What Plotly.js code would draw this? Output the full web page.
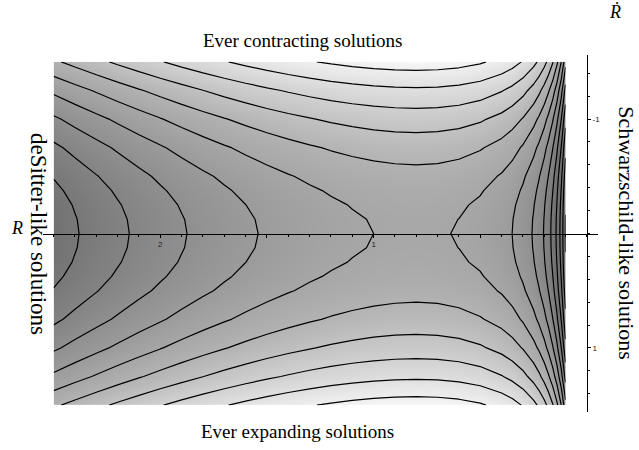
<!DOCTYPE html>
<html>
<head>
<meta charset="utf-8">
<script src="https://cdn.plot.ly/plotly-3.0.1.min.js"></script>
<style>
  html, body { margin: 0; padding: 0; background: #fff; }
  #chart { width: 639px; height: 450px; }
</style>
</head>
<body>
<div id="chart"></div>
<script>
// R values of the grid columns (axis runs right to left, 0 at the vertical axis)
const rValues = [0.10, 0.12, 0.14, 0.16, 0.18, 0.20, 0.225, 0.25, 0.30, 0.35, 0.40, 0.50,
                 0.60, 0.70, 0.80, 0.90, 1.00, 1.10, 1.20, 1.30, 1.40, 1.50, 1.60, 1.70,
                 1.80, 1.90, 2.00, 2.10, 2.20, 2.30, 2.40, 2.50];

// Rdot values of the grid rows (top of the picture is -1.5)
const rdotValues = [-1.5, -1.25, -1.0, -0.75, -0.5, -0.375, -0.25, -0.125, 0,
                    0.125, 0.25, 0.375, 0.5, 0.75, 1.0, 1.25, 1.5];

// level read along each row, by |Rdot|
const row0000 = [-4.204, -3.506, -3.008, -2.636, -2.347, -2.116, -1.887, -1.706, -1.437, -1.250, -1.116, -0.943,
                 -0.848, -0.801, -0.787, -0.799, -0.830, -0.878, -0.940, -1.016, -1.104, -1.203, -1.312, -1.432,
                 -1.562, -1.701, -1.850, -2.008, -2.175, -2.352, -2.537, -2.731];
const row0125 = [-4.188, -3.490, -2.992, -2.620, -2.331, -2.100, -1.871, -1.690, -1.421, -1.234, -1.100, -0.927,
                 -0.832, -0.785, -0.771, -0.783, -0.814, -0.862, -0.924, -1.000, -1.088, -1.187, -1.296, -1.416,
                 -1.546, -1.685, -1.834, -1.992, -2.159, -2.336, -2.521, -2.715];
const row0250 = [-4.142, -3.444, -2.946, -2.574, -2.285, -2.054, -1.825, -1.644, -1.375, -1.188, -1.054, -0.881,
                 -0.786, -0.739, -0.725, -0.737, -0.768, -0.816, -0.878, -0.954, -1.042, -1.141, -1.250, -1.370,
                 -1.500, -1.639, -1.788, -1.946, -2.113, -2.290, -2.475, -2.669];
const row0375 = [-4.063, -3.365, -2.867, -2.495, -2.206, -1.975, -1.746, -1.565, -1.296, -1.109, -0.975, -0.802,
                 -0.707, -0.660, -0.646, -0.658, -0.689, -0.737, -0.799, -0.875, -0.963, -1.062, -1.171, -1.291,
                 -1.421, -1.560, -1.709, -1.867, -2.034, -2.211, -2.396, -2.590];
const row0500 = [-3.954, -3.256, -2.758, -2.386, -2.097, -1.866, -1.637, -1.456, -1.187, -1.000, -0.866, -0.693,
                 -0.598, -0.551, -0.537, -0.549, -0.580, -0.628, -0.690, -0.766, -0.854, -0.953, -1.062, -1.182,
                 -1.312, -1.451, -1.600, -1.758, -1.925, -2.102, -2.287, -2.481];
const row0750 = [-3.642, -2.944, -2.446, -2.074, -1.785, -1.554, -1.325, -1.144, -0.875, -0.688, -0.554, -0.381,
                 -0.286, -0.239, -0.225, -0.237, -0.268, -0.316, -0.378, -0.454, -0.542, -0.641, -0.750, -0.870,
                 -1.000, -1.139, -1.288, -1.446, -1.613, -1.790, -1.975, -2.169];
const row1000 = [-3.204, -2.506, -2.008, -1.636, -1.347, -1.116, -0.887, -0.706, -0.437, -0.250, -0.116, 0.057,
                 0.152, 0.199, 0.213, 0.201, 0.170, 0.122, 0.060, -0.016, -0.104, -0.203, -0.312, -0.432,
                 -0.562, -0.701, -0.850, -1.008, -1.175, -1.352, -1.537, -1.731];
const row1250 = [-2.642, -1.944, -1.446, -1.074, -0.785, -0.554, -0.325, -0.144, 0.126, 0.313, 0.447, 0.620,
                 0.715, 0.762, 0.776, 0.764, 0.733, 0.685, 0.623, 0.547, 0.459, 0.360, 0.251, 0.131,
                 0.001, -0.139, -0.288, -0.446, -0.613, -0.790, -0.975, -1.169];
const row1500 = [-1.954, -1.256, -0.758, -0.386, -0.097, 0.134, 0.363, 0.544, 0.813, 1.000, 1.134, 1.307,
                 1.402, 1.449, 1.463, 1.451, 1.420, 1.372, 1.310, 1.234, 1.146, 1.047, 0.938, 0.818,
                 0.688, 0.549, 0.400, 0.242, 0.075, -0.102, -0.287, -0.481];

// contour levels seen in the picture
const levelStart = -4.174;
const levelEnd = 1.3;
const levelStep = 0.418;

// tick labels
const xTickVals = [2, 1.5, 1, 0.5];
const xTickText = ['2', '', '1', ''];
const yTickVals = [-1, 1];
const yTickText = ['-1', '1'];

const zRows = [row1500, row1250, row1000, row0750, row0500, row0375, row0250, row0125, row0000,
               row0125, row0250, row0375, row0500, row0750, row1000, row1250, row1500];

const serif = 'Liberation Serif, DejaVu Serif, serif';

const trace = {
    type: 'contour',
    x: rValues,
    y: rdotValues,
    z: zRows,
    zmin: -4.3,
    zmax: 1.5,
    colorscale: [[0, 'rgb(112,112,112)'], [0.271, 'rgb(114,114,114)'],
                 [0.655, 'rgb(176,176,176)'], [1, 'rgb(248,248,248)']],
    showscale: false,
    hoverinfo: 'skip',
    contours: {
        coloring: 'heatmap',
        showlines: true,
        start: levelStart,
        end: levelEnd,
        size: levelStep
    },
    line: { color: '#000', width: 1.2, smoothing: 0 }
};

const layout = {
    width: 639,
    height: 450,
    margin: { l: 43, r: 41, t: 55, b: 38 },
    paper_bgcolor: '#fff',
    plot_bgcolor: '#fff',
    showlegend: false,
    xaxis: {
        range: [2.55, -0.052],
        anchor: 'free',
        position: 0.5,
        showgrid: false,
        zeroline: false,
        showline: true,
        linecolor: '#000',
        linewidth: 1,
        tickmode: 'array',
        tickvals: xTickVals,
        ticktext: xTickText,
        ticks: 'outside',
        ticklen: 3,
        tickcolor: '#000',
        tickfont: { family: 'Liberation Sans, Arial, sans-serif', size: 8, color: '#222' },
        minor: { tickmode: 'linear', tick0: 0, dtick: 0.1, ticks: 'outside', ticklen: 2, tickcolor: '#000' }
    },
    yaxis: {
        range: [1.56, -1.56],
        anchor: 'free',
        position: 0.98,
        side: 'right',
        showgrid: false,
        zeroline: false,
        showline: true,
        linecolor: '#000',
        linewidth: 1,
        tickmode: 'array',
        tickvals: yTickVals,
        ticktext: yTickText,
        ticks: 'outside',
        ticklen: 3,
        tickcolor: '#000',
        tickfont: { family: 'Liberation Sans, Arial, sans-serif', size: 8, color: '#222' },
        minor: { tickmode: 'linear', tick0: 0, dtick: 0.2, ticks: 'outside', ticklen: 2, tickcolor: '#000' }
    },
    annotations: [
        { text: 'Ever contracting solutions', xref: 'paper', yref: 'paper', x: 0.468, y: 1.042,
          xanchor: 'center', yanchor: 'middle', showarrow: false, font: { family: serif, size: 19, color: '#000' } },
        { text: 'Ever expanding solutions', xref: 'paper', yref: 'paper', x: 0.459, y: -0.056,
          xanchor: 'center', yanchor: 'middle', showarrow: false, font: { family: serif, size: 19, color: '#000' } },
        { text: 'deSitter-like solutions', xref: 'paper', yref: 'paper', x: -0.008, y: 0.5, textangle: 90,
          xanchor: 'center', yanchor: 'middle', showarrow: false, font: { family: serif, size: 23, color: '#000' } },
        { text: 'Schwarzschild-like solutions', xref: 'paper', yref: 'paper', x: 1.052, y: 0.501, textangle: 90,
          xanchor: 'center', yanchor: 'middle', showarrow: false, font: { family: serif, size: 22, color: '#000' } },
        { text: '<i>R</i>', xref: 'paper', yref: 'paper', x: -0.047, y: 0.515,
          xanchor: 'center', yanchor: 'middle', showarrow: false, font: { family: serif, size: 18, color: '#000' } },
        { text: '<i>R\u0307</i>', xref: 'paper', yref: 'paper', x: 1.031, y: 1.12,
          xanchor: 'center', yanchor: 'middle', showarrow: false, font: { family: serif, size: 18, color: '#000' } }
    ]
};

Plotly.newPlot('chart', [trace], layout, { staticPlot: true, displayModeBar: false });
</script>
</body>
</html>
